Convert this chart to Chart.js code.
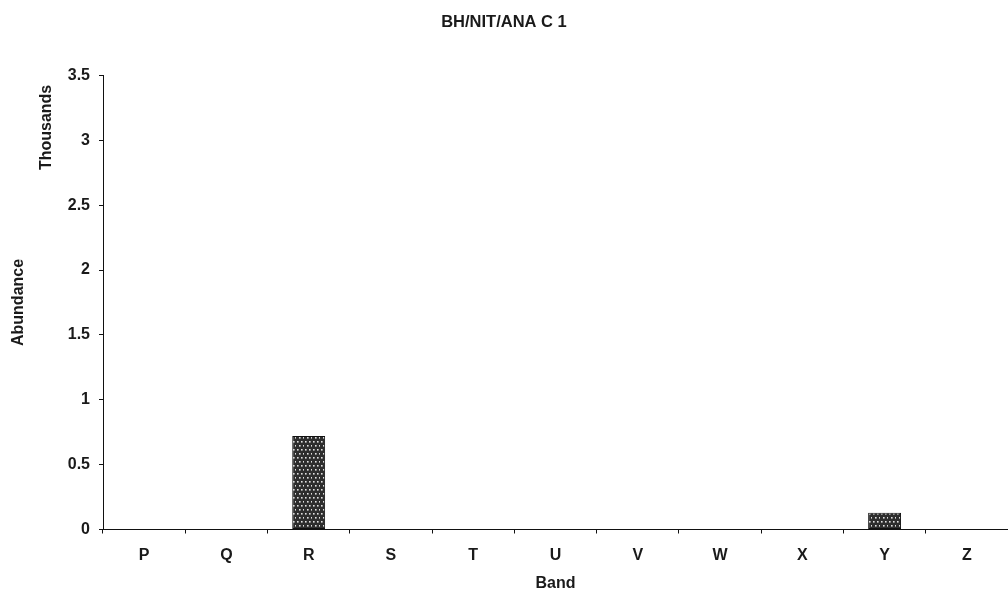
<!DOCTYPE html>
<html>
<head>
<meta charset="utf-8">
<script src="https://cdn.jsdelivr.net/npm/chart.js@4/dist/chart.umd.min.js"></script>
<style>
html,body{margin:0;padding:0;background:#fff;}
#wrap{width:1008px;height:592px;position:relative;}
</style>
</head>
<body>
<div id="wrap"><canvas id="c" width="1008" height="592"></canvas></div>
<script>
const chartTitle = 'BH/NIT/ANA C 1';
const categories = ['P','Q','R','S','T','U','V','W','X','Y','Z'];
const abundanceThousands = [0, 0, 0.72, 0, 0, 0, 0, 0, 0, 0.13, 0];
const yTicks = [0, 0.5, 1, 1.5, 2, 2.5, 3, 3.5];
const yTickLabels = ['0', '0.5', '1', '1.5', '2', '2.5', '3', '3.5'];
const xAxisTitle = 'Band';
const yAxisTitle = 'Abundance';
const yUnitLabel = 'Thousands';

const FONT = '"Liberation Sans", Arial, Helvetica, sans-serif';
const INK = '#1a1a1a';

function makePattern() {
  const t = document.createElement('canvas');
  t.width = 8; t.height = 8;
  const g = t.getContext('2d');
  g.fillStyle = '#2e2e2e';
  g.fillRect(0, 0, 8, 8);
  g.fillStyle = '#e0e0e0';
  [[1,1],[5,1],[3,5],[7,5]].forEach(([x,y]) => g.fillRect(x, y, 1.6, 1.6));
  return document.getElementById('c').getContext('2d').createPattern(t, 'repeat');
}

const unitLabelPlugin = {
  id: 'unitLabel',
  afterDraw(chart) {
    const ctx = chart.ctx;
    const a = chart.chartArea;
    ctx.save();
    ctx.translate(a.left - 56, a.top + 52);
    ctx.rotate(-Math.PI / 2);
    ctx.font = 'bold 16px ' + FONT;
    ctx.fillStyle = INK;
    ctx.textAlign = 'center';
    ctx.textBaseline = 'middle';
    ctx.fillText(yUnitLabel, 0, 0);
    ctx.restore();
  }
};

new Chart(document.getElementById('c'), {
  type: 'bar',
  data: {
    labels: categories,
    datasets: [{
      data: abundanceThousands,
      backgroundColor: makePattern(),
      borderColor: '#111',
      borderWidth: 1,
      borderSkipped: false,
      barPercentage: 0.4,
      categoryPercentage: 1.0
    }]
  },
  options: {
    responsive: false,
    animation: false,
    devicePixelRatio: 1,
    layout: { padding: { left: 0, right: 0, top: 0, bottom: 0 } },
    plugins: {
      legend: { display: false },
      tooltip: { enabled: false },
      title: {
        display: true,
        text: chartTitle,
        color: INK,
        font: { family: FONT, size: 16.5, weight: 'bold' },
        padding: { top: 13, bottom: 42.6 }
      }
    },
    scales: {
      x: {
        afterFit(scale) { scale.height = 62.5; },
        grid: { display: true, drawOnChartArea: false, drawTicks: true, tickLength: 4, color: '#111', offset: true },
        border: { display: true, color: '#111', width: 1 },
        ticks: { color: INK, font: { family: FONT, size: 16, weight: 'bold', lineHeight: 1.0 }, padding: 14, maxRotation: 0 },
        title: { display: true, text: xAxisTitle, color: INK, font: { family: FONT, size: 16, weight: 'bold', lineHeight: 1.0 }, padding: { top: 0, bottom: 0 } }
      },
      y: {
        min: 0,
        max: 3.5,
        afterFit(scale) { scale.width = 103; },
        afterBuildTicks(scale) { scale.ticks = yTicks.map(v => ({ value: v })); },
        grid: { display: true, drawOnChartArea: false, drawTicks: true, tickLength: 4, color: '#111' },
        border: { display: true, color: '#111', width: 1 },
        ticks: {
          color: INK, font: { family: FONT, size: 16, weight: 'bold' }, padding: 9,
          callback: (v) => { const i = yTicks.indexOf(v); return i >= 0 ? yTickLabels[i] : ''; }
        },
        title: { display: true, text: yAxisTitle, color: INK, font: { family: FONT, size: 16, weight: 'bold' }, padding: { top: 9, bottom: 0 } }
      }
    }
  },
  plugins: [unitLabelPlugin]
});
</script>
</body>
</html>
